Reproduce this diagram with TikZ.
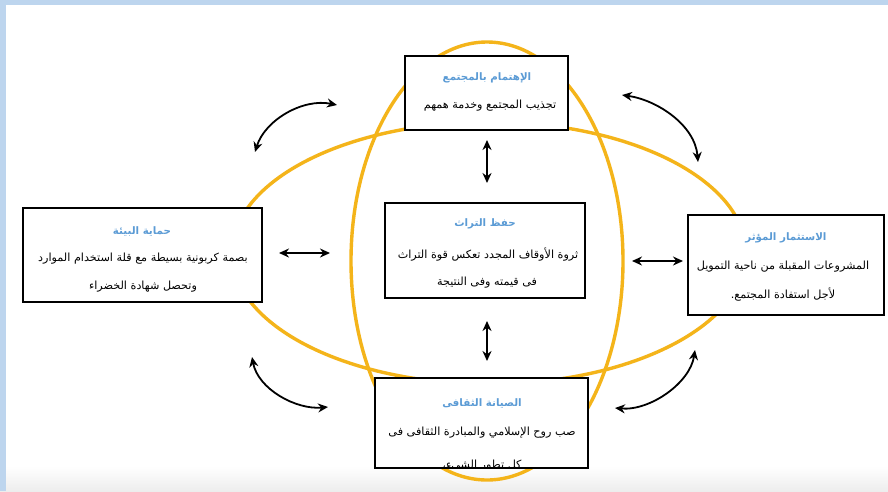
\documentclass[tikz,border=0pt]{standalone}
\usepackage{fontspec}
\newfontfamily\arabicfont[Script=Arabic]{DejaVu Sans}
\TeXXeTstate=1
\usetikzlibrary{arrows.meta}

\definecolor{ringyellow}{HTML}{F4B41A}
\definecolor{titleblue}{HTML}{5B9BD5}
\definecolor{frameblue}{HTML}{BDD5EE}

% right-to-left Arabic run
\newcommand\artext[1]{{\arabicfont\beginR #1\endR}}

\tikzset{
  ring/.style={draw=ringyellow, line width=3.4pt},
  infobox/.style={draw=black, fill=white, line width=1.3pt, rectangle, inner sep=0pt},
  boxtitle/.style={text=titleblue, font=\bfseries\fontsize{10.3}{12}\selectfont, inner sep=0pt},
  boxline/.style={text=black, font=\fontsize{11.2}{13}\selectfont, inner sep=0pt},
  link/.style={draw=black, line width=1.8pt, {Stealth[length=10pt,width=9pt]}-{Stealth[length=10pt,width=9pt]}},
}

\begin{document}
\begin{tikzpicture}[x=1pt,y=-1pt]
  \useasboundingbox (0,0) rectangle (888,491);
  % page background and frame strips
  \fill[white] (0,0) rectangle (888,491);
  \shade[top color=white, bottom color=black!7] (0,466) rectangle (888,491);
  \fill[frameblue] (0,0) rectangle (888,5);
  \fill[frameblue] (0,0) rectangle (6,491);

  % the two overlapping rings
  \draw[ring] (489,253) ellipse [x radius=257, y radius=131];
  \draw[ring] (487,261) ellipse [x radius=136, y radius=219];

  % boxes
  \node[infobox, minimum width=163pt, minimum height=74pt] (community) at (486.5,93) {};
  \node[infobox, minimum width=200pt, minimum height=95pt] (heritage) at (485,250.5) {};
  \node[infobox, minimum width=239pt, minimum height=94pt] (environment) at (142.5,255) {};
  \node[infobox, minimum width=196pt, minimum height=100pt] (investment) at (786,265) {};
  \node[infobox, minimum width=213pt, minimum height=90pt] (culture) at (481.5,423) {};

  % community box
  \node[boxtitle] (communityT) at (487,78) {\artext{الإهتمام بالمجتمع}};
  \node[boxline] (communityL1) at (490,106) {\artext{تجذيب المجتمع وخدمة همهم}};

  % heritage box
  \node[boxtitle] (heritageT) at (485,224) {\artext{حفظ التراث}};
  \node[boxline] (heritageL1) at (488,255) {\artext{ثروة الأوقاف المجدد تعكس قوة التراث}};
  \node[boxline] (heritageL2) at (487,283) {\artext{فى قيمته وفى النتيجة}};

  % environment box
  \node[boxtitle] (environmentT) at (142,231) {\artext{حماية البيئة}};
  \node[boxline] (environmentL1) at (143,259) {\artext{بصمة كربونية بسيطة مع قلة استخدام الموارد}};
  \node[boxline] (environmentL2) at (143,287) {\artext{وتحصل شهادة الخضراء}};

  % investment box
  \node[boxtitle] (investmentT) at (786,238) {\artext{الاستثمار المؤثر}};
  \node[boxline] (investmentL1) at (783,267) {\artext{المشروعات المقبلة من ناحية التمويل}};
  \node[boxline] (investmentL2) at (783,295) {\artext{لأجل استفادة المجتمع.}};

  % culture box, its last line runs past the frame
  \node[boxtitle] (cultureT) at (482,403) {\artext{الصيانة الثقافى}};
  \node[boxline] (cultureL1) at (482,433) {\artext{صب روح الإسلامي والمبادرة الثقافى فى}};
  \begin{scope}
    \clip (376,380) rectangle (587,466);
    \node[boxline] (cultureL2) at (482,466) {\artext{كل تطور الشيء،}};
  \end{scope}
  \draw[line width=1.3pt] (culture.south west) rectangle (culture.north east);

  % straight links between the centre and its neighbours
  \coordinate (topA) at (487,140);   \coordinate (topB) at (487,183);
  \coordinate (botA) at (487,321);   \coordinate (botB) at (487,361);
  \coordinate (leftA) at (279,253);  \coordinate (leftB) at (330,253);
  \coordinate (rightA) at (632,261); \coordinate (rightB) at (683,261);
  \draw[link] (topA) -- (topB);
  \draw[link] (botA) -- (botB);
  \draw[link] (leftA) -- (leftB);
  \draw[link] (rightA) -- (rightB);

  % curved links around the ring
  \coordinate (ulA) at (255,152); \coordinate (ulB) at (337,105);
  \coordinate (urA) at (622,95);  \coordinate (urB) at (698,162);
  \coordinate (llA) at (252,357); \coordinate (llB) at (328,407);
  \coordinate (lrA) at (695,350); \coordinate (lrB) at (615,408);
  \draw[link] (ulA) .. controls (265,120) and (303,98) .. (ulB);
  \draw[link] (urA) .. controls (657,100) and (695,125) .. (urB);
  \draw[link] (llA) .. controls (258,389) and (296,410) .. (llB);
  \draw[link] (lrA) .. controls (690,383) and (650,411) .. (lrB);
\end{tikzpicture}
\end{document}
